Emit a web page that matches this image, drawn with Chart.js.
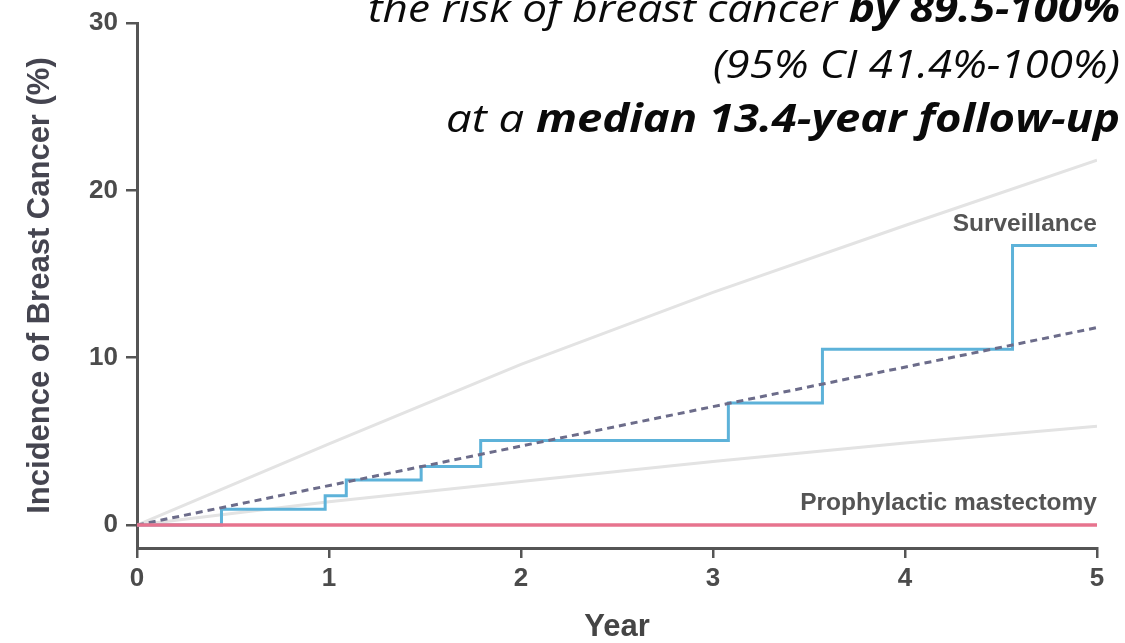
<!DOCTYPE html>
<html>
<head>
<meta charset="utf-8">
<script src="https://cdn.jsdelivr.net/npm/chart.js@4.4.0/dist/chart.umd.min.js"></script>
<style>
  html, body { margin: 0; padding: 0; background: #fff; }
  #wrap { position: relative; width: 1125px; height: 643px; overflow: hidden; }
  #chart { position: absolute; left: 0; top: 0; filter: blur(0.7px); }
  #note { position: absolute; left: 0; top: 0; }
</style>
</head>
<body>
<div id="wrap">
  <canvas id="chart" width="1125" height="643"></canvas>
  <canvas id="note" width="1125" height="643"></canvas>
</div>
<script>
// Cumulative incidence (%) by year
const stepYears = [0, 0.44, 0.98, 1.09, 1.48, 1.79, 3.08, 3.57, 4.56, 5.0];
const surveillance = [0, 0.95, 1.75, 2.7, 3.5, 5.05, 7.3, 10.5, 16.7, 16.7];
const fitYears = [0, 5];
const fitValues = [0, 11.8];
const ciYears = [0, 1, 2, 3, 4, 5];
const ciUpper = [0, 4.85, 9.6, 13.9, 17.9, 21.8];
const ciLower = [0, 1.4, 2.6, 3.8, 4.9, 5.9];
const mastectomyYears = [0, 5];
const mastectomy = [0, 0];
const xTicks = [0, 1, 2, 3, 4, 5];
const yTicks = [0, 10, 20, 30];
const seriesLabels = ['Surveillance', 'Prophylactic mastectomy'];
const seriesLabelY = [18.0, 1.3];
const xTitle = 'Year';
const yTitle = 'Incidence of Breast Cancer (%)';
const noteLines = [
  [['the risk of breast cancer ', false], ['by 89.5-100%', true]],
  [['(95% CI 41.4%-100%)', false]],
  [['at a ', false], ['median 13.4-year follow-up', true]]
];

const AXIS = '#555555';
const TEXT = '#4b4b4b';
const SANS = '"Liberation Sans", Arial, sans-serif';

const toPoints = (xs, ys) => xs.map((x, i) => ({ x: x, y: ys[i] }));

// Series names drawn at the right end of the plot
const seriesNamePlugin = {
  id: 'seriesNames',
  afterDatasetsDraw(chart) {
    const { ctx, scales: { x, y } } = chart;
    ctx.save();
    ctx.font = 'bold 24.5px ' + SANS;
    ctx.fillStyle = '#545454';
    ctx.textAlign = 'right';
    ctx.textBaseline = 'middle';
    seriesLabels.forEach((name, i) => {
      ctx.fillText(name, x.getPixelForValue(5), y.getPixelForValue(seriesLabelY[i]));
    });
    ctx.restore();
  }
};

new Chart(document.getElementById('chart'), {
  type: 'line',
  data: {
    datasets: [
      { label: seriesLabels[1], data: toPoints(mastectomyYears, mastectomy),
        borderColor: '#e7738e', borderWidth: 3.5, order: 0 },
      { label: 'Trend', data: toPoints(fitYears, fitValues),
        borderColor: '#6c6c8a', borderWidth: 3, borderDash: [7, 5], order: 1 },
      { label: seriesLabels[0], data: toPoints(stepYears, surveillance), stepped: 'before',
        borderColor: '#5db2d9', borderWidth: 3, order: 2 },
      { label: 'Upper', data: toPoints(ciYears, ciUpper),
        borderColor: '#e3e3e3', borderWidth: 3, order: 3 },
      { label: 'Lower', data: toPoints(ciYears, ciLower),
        borderColor: '#e3e3e3', borderWidth: 3, order: 3 }
    ]
  },
  options: {
    responsive: false,
    animation: false,
    layout: { padding: { left: 0, top: 23, right: 28, bottom: 0 } },
    elements: { point: { radius: 0 }, line: { tension: 0, fill: false } },
    plugins: { legend: { display: false }, tooltip: { enabled: false } },
    scales: {
      x: {
        type: 'linear', min: 0, max: 5,
        afterBuildTicks: s => { s.ticks = xTicks.map(v => ({ value: v })); },
        afterFit: s => { s.height = 95; s.paddingLeft = 0; s.paddingRight = 0; },
        border: { display: true, color: AXIS, width: 3 },
        grid: { drawOnChartArea: false, drawTicks: true, tickLength: 10, color: AXIS, lineWidth: 2.5 },
        ticks: { padding: 5, color: TEXT, maxRotation: 0, font: { family: SANS, size: 26, weight: 'bold' } },
        title: { display: true, text: xTitle, color: '#454545', padding: { top: 0, bottom: 0 },
                 font: { family: SANS, size: 31, weight: 'bold', lineHeight: 1 } }
      },
      y: {
        type: 'linear', min: -1.37, max: 30,
        afterBuildTicks: s => { s.ticks = yTicks.map(v => ({ value: v })); },
        afterFit: s => { s.width = 137; s.paddingTop = 0; s.paddingBottom = 0; },
        border: { display: true, color: AXIS, width: 3 },
        grid: { drawOnChartArea: false, drawTicks: true, tickLength: 11, color: AXIS, lineWidth: 2.5 },
        ticks: { padding: 8, color: TEXT, font: { family: SANS, size: 26, weight: 'bold' } },
        title: { display: true, text: yTitle, color: '#454550', padding: { top: 24.5, bottom: 0 },
                 font: { family: SANS, size: 31, weight: 'bold', lineHeight: 1 } }
      }
    }
  },
  plugins: [seriesNamePlugin]
});

// Italic summary text, right-aligned in the upper right corner
(function drawNote() {
  const g = document.getElementById('note').getContext('2d');
  const NOTE_RIGHT = 1120;
  const NOTE_BASELINES = [22, 78, 132];
  const NOTE_LEFTS = [368, 713, 446];
  const NOTE_SIZE = 39;
  const fontFor = bold => 'italic ' + (bold ? 700 : 400) + ' ' + NOTE_SIZE + 'px "Open Sans", "DejaVu Sans", sans-serif';
  const widthOf = line => line.reduce((w, seg) => { g.font = fontFor(seg[1]); return w + g.measureText(seg[0]).width; }, 0);
  g.fillStyle = '#0a0a0a';
  g.textBaseline = 'alphabetic';
  noteLines.forEach((line, i) => {
    const sx = (NOTE_RIGHT - NOTE_LEFTS[i]) / widthOf(line);
    g.save();
    g.translate(NOTE_LEFTS[i], NOTE_BASELINES[i]);
    g.scale(sx, 1);
    let cx = 0;
    line.forEach(seg => {
      g.font = fontFor(seg[1]);
      g.fillText(seg[0], cx, 0);
      cx += g.measureText(seg[0]).width;
    });
    g.restore();
  });
})();
</script>
</body>
</html>
